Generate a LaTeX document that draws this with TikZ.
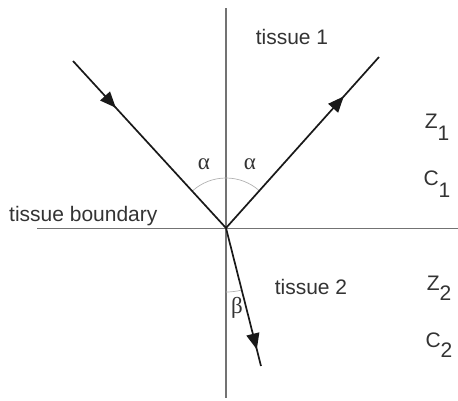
\documentclass[tikz,border=0pt]{standalone}
\usepackage{fontspec}
\setmainfont{Liberation Sans}
\newfontfamily\greekfont{Liberation Serif}
\usetikzlibrary{decorations.markings,arrows.meta}
\begin{document}
\begin{tikzpicture}[x=1pt,y=-1pt,
  axis/.style={draw=black!55, line width=1.2pt},
  ray/.style={draw=black!90, line width=1.7pt},
  lbl/.style={font=\fontsize{21}{24}\selectfont, text=black!80, inner sep=0pt},
  glbl/.style={font=\greekfont\fontsize{23}{26}\selectfont, text=black!80, inner sep=0pt},
  midarrow/.style={postaction={decorate}, decoration={markings,
     mark=at position #1 with {\arrow{Triangle[length=16pt,width=13pt]}}}},
  anglearc/.style={draw=black!30, line width=0.7pt}
]
\useasboundingbox (0,0) rectangle (458,400);
% reference points
\coordinate (O) at (226,228);
\coordinate (vtop) at (226,8);
\coordinate (vbot) at (226,398);
\coordinate (hleft) at (37,228.5);
\coordinate (hright) at (458,228.5);
\coordinate (inc) at (73,61);
\coordinate (refl) at (379,57);
\coordinate (refr) at (261,366);
% axes
\draw[axis] (vtop) -- (vbot);
\draw[axis] (hleft) -- (hright);
% angle arcs
\draw[anglearc] (O) ++(-132.3:50) arc[start angle=-132.3, end angle=-48, radius=50];
\draw[anglearc] (O) ++(75.4:64) arc[start angle=75.4, end angle=90, radius=64];
% rays
\draw[ray, midarrow=0.28] (inc) -- (O);
\draw[ray, midarrow=0.77] (O) -- (refl);
\draw[ray, midarrow=0.88] (O) -- (refr);
% labels
\node[lbl] (t1) at (292,37) {tissue 1};
\node[lbl] (t2) at (311,287) {tissue 2};
\node[lbl, anchor=west] (tb) at (9,216) {tissue boundary};
\node[glbl] (a1) at (204,164) {α};
\node[glbl] (a2) at (250,164) {α};
\node[glbl] (b) at (237,308) {β};
\node[lbl] (z1) at (437,127) {Z\raisebox{-1.1ex}{1}};
\node[lbl] (c1) at (437,184) {C\raisebox{-1.1ex}{1}};
\node[lbl] (z2) at (439,288) {Z\raisebox{-0.9ex}{2}};
\node[lbl] (c2) at (439,345) {C\raisebox{-0.9ex}{2}};
\end{tikzpicture}
\end{document}
